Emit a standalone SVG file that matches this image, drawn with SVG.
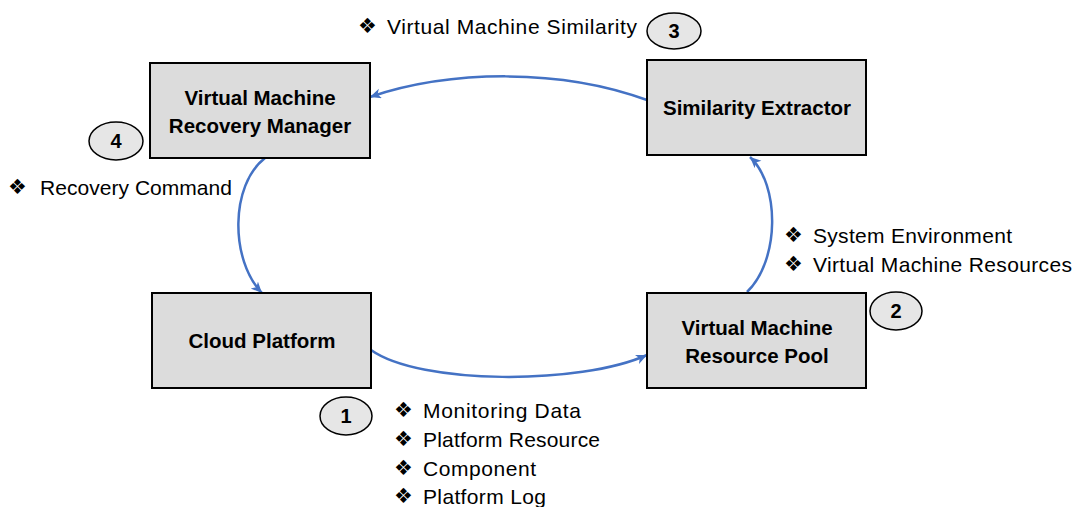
<svg xmlns="http://www.w3.org/2000/svg" width="1077" height="507" viewBox="0 0 1077 507">
<style>
.box{fill:#dcdcdc;stroke:#000;stroke-width:2}
.oval{fill:#e6e6e6;stroke:#000;stroke-width:1.5}
.bl{font-family:"Liberation Sans",Arial,sans-serif;font-weight:bold;font-size:20.5px;fill:#000;text-anchor:middle}
.num{font-family:"Liberation Sans",Arial,sans-serif;font-weight:bold;font-size:20px;fill:#000;text-anchor:middle}
.lb{font-family:"Liberation Sans",Arial,sans-serif;font-size:21px;fill:#000}
.dia{font-family:"DejaVu Sans",sans-serif;font-size:21px;fill:#000}
.conn{fill:none;stroke:#4472C4;stroke-width:2.5}
</style>
<defs>
<marker id="ah" markerUnits="userSpaceOnUse" markerWidth="14" markerHeight="12" refX="11" refY="5" orient="auto">
<path d="M0,0 L11,5 L0,10 L3,5 Z" fill="#4472C4"/>
</marker>
</defs>
<rect width="1077" height="507" fill="#fff"/>
<g id="connectors">
<path class="conn" d="M647,100 C560,68 450,70 370,97" marker-end="url(#ah)"/>
<path class="conn" d="M265,158 C230,185 230,260 262,293" marker-end="url(#ah)"/>
<path class="conn" d="M371,350 C420,385 580,385 647,355" marker-end="url(#ah)"/>
<path class="conn" d="M747,292 C780,260 780,185 750,157" marker-end="url(#ah)"/>
</g>
<g id="recovery-manager">
<rect class="box" x="150" y="63" width="220" height="95"/>
<text class="bl" x="260" y="105">Virtual Machine</text>
<text class="bl" x="260" y="133">Recovery Manager</text>
</g>
<g id="similarity-extractor">
<rect class="box" x="647" y="60" width="219" height="95"/>
<text class="bl" x="757" y="115">Similarity Extractor</text>
</g>
<g id="cloud-platform">
<rect class="box" x="152" y="293" width="219" height="95"/>
<text class="bl" x="262" y="348">Cloud Platform</text>
</g>
<g id="resource-pool">
<rect class="box" x="647" y="293" width="219" height="95"/>
<text class="bl" x="757" y="335">Virtual Machine</text>
<text class="bl" x="757" y="363">Resource Pool</text>
</g>
<g id="badge-1">
<ellipse class="oval" cx="346" cy="416" rx="26" ry="19"/>
<text class="num" x="346" y="423">1</text>
</g>
<g id="badge-2">
<ellipse class="oval" cx="896" cy="311" rx="26" ry="19"/>
<text class="num" x="896" y="318">2</text>
</g>
<g id="badge-3">
<ellipse class="oval" cx="674" cy="31" rx="27" ry="18"/>
<text class="num" x="674" y="38">3</text>
</g>
<g id="badge-4">
<ellipse class="oval" cx="116" cy="141" rx="27" ry="19"/>
<text class="num" x="116" y="148">4</text>
</g>
<g id="label-similarity">
<text class="dia" x="358" y="33">❖</text>
<text class="lb" x="387" y="34" textLength="250" lengthAdjust="spacing">Virtual Machine Similarity</text>
</g>
<g id="label-recovery">
<text class="dia" x="8" y="194">❖</text>
<text class="lb" x="40" y="195" textLength="192" lengthAdjust="spacing">Recovery Command</text>
</g>
<g id="label-resources">
<text class="dia" x="784" y="242">❖</text>
<text class="lb" x="813" y="243" textLength="199" lengthAdjust="spacing">System Environment</text>
<text class="dia" x="784" y="271">❖</text>
<text class="lb" x="813" y="272" textLength="259" lengthAdjust="spacing">Virtual Machine Resources</text>
</g>
<g id="label-platform">
<text class="dia" x="394" y="417">❖</text>
<text class="lb" x="423" y="418" textLength="158" lengthAdjust="spacing">Monitoring Data</text>
<text class="dia" x="394" y="446">❖</text>
<text class="lb" x="423" y="447" textLength="177" lengthAdjust="spacing">Platform Resource</text>
<text class="dia" x="394" y="475">❖</text>
<text class="lb" x="423" y="476" textLength="113" lengthAdjust="spacing">Component</text>
<text class="dia" x="394" y="503">❖</text>
<text class="lb" x="423" y="504" textLength="123" lengthAdjust="spacing">Platform Log</text>
</g>
</svg>
